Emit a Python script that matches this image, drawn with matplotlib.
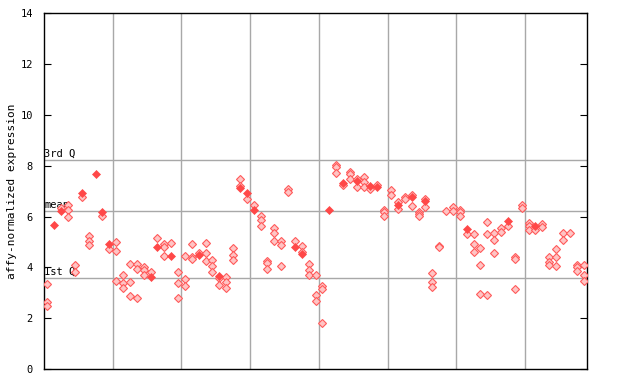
import matplotlib
matplotlib.use("Agg")
import matplotlib.pyplot as plt

# replicate values per sample (hollow diamonds), sample index = position in list
hollow_vals = [
    [3.35, 2.65, 2.49], [], [6.32], [6.45, 6.25, 6.0], [4.08, 3.83],
    [6.76], [5.22, 5.05, 4.87], [], [6.04], [4.71],
    [5.0, 4.65, 3.46], [3.71, 3.37, 3.18], [4.12, 3.41, 2.87], [4.12, 3.92, 2.78], [4.02, 3.89, 3.71],
    [3.82], [5.14], [4.91, 4.79, 4.44], [4.95], [3.81, 3.37, 2.78],
    [4.44, 3.53, 3.26], [4.91, 4.40, 4.32], [4.55], [4.95, 4.55, 4.24], [4.28, 4.04, 3.81],
    [3.57, 3.30], [3.61, 3.41, 3.18], [4.75, 4.48, 4.28], [7.47, 7.19], [6.68],
    [6.44], [6.01, 5.85, 5.62], [4.24, 4.16, 3.92], [5.54, 5.34, 5.03], [5.03, 4.87, 4.04],
    [7.07, 6.96], [5.03], [4.83, 4.59], [4.12, 3.89, 3.69], [3.69, 2.90, 2.67],
    [3.26, 3.16, 1.80], [], [8.02, 7.94, 7.70], [7.23], [7.74, 7.66, 7.47],
    [7.47, 7.15], [7.55, 7.35, 7.15], [7.07], [7.23], [6.25, 6.17, 6.01],
    [7.04, 6.84], [6.56, 6.29], [6.76, 6.68], [6.84, 6.40], [6.17, 6.09, 6.01],
    [6.68, 6.37], [3.77, 3.41, 3.22], [4.83, 4.79], [6.20], [6.37, 6.21],
    [6.25, 6.17, 6.01], [5.30], [5.30, 4.91, 4.59], [4.75, 4.08, 2.95], [5.77, 5.30, 2.90],
    [5.34, 5.07, 4.55], [5.54, 5.38], [5.62], [4.40, 4.32, 3.14], [6.44, 6.33],
    [5.73, 5.62, 5.46], [5.46], [5.70, 5.58], [4.40, 4.20, 4.08], [4.71, 4.40, 4.04],
    [5.34, 5.07], [5.34], [4.08, 4.00, 3.85], [4.08, 3.69, 3.45],
]

# highlighted (filled) points
filled_idx = [1, 2, 5, 7, 8, 9, 15, 16, 18, 22, 25, 28, 29, 30, 36, 37,
              41, 43, 45, 47, 48, 51, 53, 55, 61, 67, 71]
filled_val = [5.68, 6.22, 6.92, 7.69, 6.17, 4.91, 3.64, 4.79, 4.44, 4.48, 3.65, 7.11, 6.92, 6.25, 4.80, 4.51,
              6.25, 7.31, 7.39, 7.19, 7.15, 6.44, 6.76, 6.60, 5.52, 5.81, 5.62]

group_bounds = [9.5, 19.5, 29.5, 39.5, 49.5, 59.5, 69.5]
q_labels = ["3rd Q", "mean", "1st Q"]
q_values = [8.21, 6.21, 3.60]

n = len(hollow_vals)
hx = [i for i, vals in enumerate(hollow_vals) for _ in vals]
hy = [v for vals in hollow_vals for v in vals]

fig = plt.figure(figsize=(6.4, 3.84), dpi=100)
ax = fig.add_axes([44 / 640, 1 - 369 / 384, 543 / 640, 355.7 / 384])

for b in group_bounds:
    ax.axvline(b, color="#a8a8a8", lw=1, zorder=1)
for lab, q in zip(q_labels, q_values):
    ax.axhline(q, color="#a8a8a8", lw=1, zorder=1)
    ax.text(-0.45, q + 0.05, lab, fontsize=7.5, family="DejaVu Sans Mono",
            va="bottom", ha="left", zorder=2)

ax.plot(hx, hy, ls="none", marker="D", ms=3.6, mfc="#ffc4c4", mec="#ff5a5a",
        mew=0.8, zorder=3)
ax.plot(filled_idx, filled_val, ls="none", marker="D", ms=4.2, mfc="#ff4848",
        mec="#ff4848", mew=0.5, zorder=4)

ax.set_xlim(-0.5, n - 0.5)
ax.set_ylim(0, 14)
ax.set_yticks(range(0, 15, 2))
ax.set_xticks([])
ax.tick_params(axis="y", direction="in", length=5, pad=8, labelsize=7.5, right=True)
for lbl in ax.get_yticklabels():
    lbl.set_family("DejaVu Sans Mono")
ax.set_ylabel("affy-normalized expression", family="DejaVu Sans Mono", fontsize=8)
ax.yaxis.set_label_coords(-0.05, 0.5)
for s in ax.spines.values():
    s.set_linewidth(1)

fig.savefig("out.png", dpi=100)
